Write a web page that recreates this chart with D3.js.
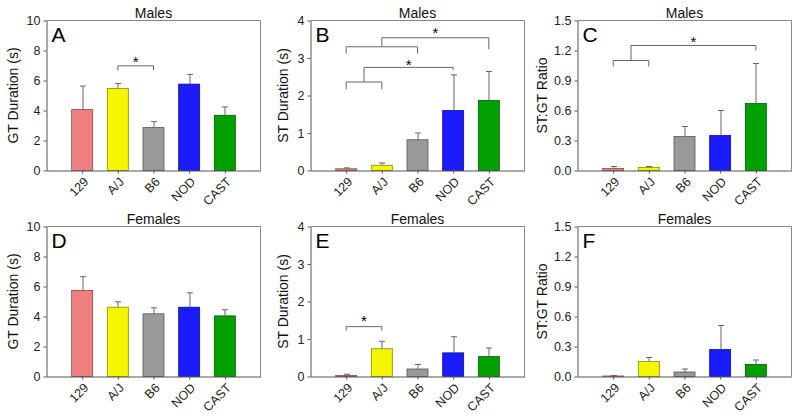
<!DOCTYPE html>
<html><head><meta charset="utf-8">
<script src="https://cdn.jsdelivr.net/npm/d3@7"></script>
<style>body{margin:0;background:#fff}svg{display:block}text{font-family:Arial,"Liberation Sans",sans-serif}</style>
</head><body><svg id="c" width="800" height="418"></svg>
<script>
const strains = ["129","A/J","B6","NOD","CAST"];
const colors = ["#F08080","#F5F500","#999999","#1A1AFF","#00A000"];

const gtMaleMean = [4.06, 5.47, 2.86, 5.76, 3.68];
const gtMaleErr  = [5.63, 5.80, 3.26, 6.41, 4.24];
const stMaleMean = [0.045, 0.14, 0.82, 1.60, 1.87];
const stMaleErr  = [0.07, 0.20, 1.00, 2.55, 2.64];
const rMaleMean  = [0.02, 0.03, 0.34, 0.35, 0.67];
const rMaleErr   = [0.04, 0.04, 0.44, 0.60, 1.07];
const gtFemMean  = [5.74, 4.62, 4.18, 4.62, 4.04];
const gtFemErr   = [6.66, 4.98, 4.58, 5.58, 4.45];
const stFemMean  = [0.03, 0.74, 0.20, 0.63, 0.53];
const stFemErr   = [0.06, 0.94, 0.32, 1.06, 0.76];
const rFemMean   = [0.005, 0.15, 0.045, 0.27, 0.12];
const rFemErr    = [0.01, 0.19, 0.075, 0.51, 0.165];

const gtTicks = [0,2,4,6,8,10];
const stTicks = [0,1,2,3,4];
const rTicks  = [0,0.3,0.6,0.9,1.2,1.5];

const bracketsA = [{from:1,to:2,y:6.98,leg:6.68,star:7.45}];
const bracketsE = [{from:0,to:1,y:1.33,leg:1.22,star:1.55}];
const nestedB = [
  {a:0,b:1,y:2.36,leg:2.16,top:2.75,target:3,drop:2.68,star:2.9},
  {a:0,b:2,y:3.30,leg:3.12,top:3.54,target:4,drop:3.23,star:3.76}
];
const nestedC = [{a:0,b:1,y:1.10,leg:1.04,top:1.25,target:4,drop:1.20,star:1.32}];

const panels = [
  {letter:"A",title:"Males",ylab:"GT Duration (s)",mean:gtMaleMean,err:gtMaleErr,ticks:gtTicks,max:10,fmt:d3.format("d"),x0:46.5,y0:20.5,lx:-29,br:bracketsA,nest:[]},
  {letter:"B",title:"Males",ylab:"ST Duration (s)",mean:stMaleMean,err:stMaleErr,ticks:stTicks,max:4,fmt:d3.format("d"),x0:310.5,y0:20.5,lx:-23,br:[],nest:nestedB},
  {letter:"C",title:"Males",ylab:"ST:GT Ratio",mean:rMaleMean,err:rMaleErr,ticks:rTicks,max:1.5,fmt:d3.format(".1f"),x0:577.5,y0:20.5,lx:-31,br:[],nest:nestedC},
  {letter:"D",title:"Females",ylab:"GT Duration (s)",mean:gtFemMean,err:gtFemErr,ticks:gtTicks,max:10,fmt:d3.format("d"),x0:46.5,y0:226.5,lx:-29,br:[],nest:[]},
  {letter:"E",title:"Females",ylab:"ST Duration (s)",mean:stFemMean,err:stFemErr,ticks:stTicks,max:4,fmt:d3.format("d"),x0:310.5,y0:226.5,lx:-23,br:bracketsE,nest:[]},
  {letter:"F",title:"Females",ylab:"ST:GT Ratio",mean:rFemMean,err:rFemErr,ticks:rTicks,max:1.5,fmt:d3.format(".1f"),x0:577.5,y0:226.5,lx:-31,br:[],nest:[]}
];

const W = 214, H = 150, BW = 21;
const svg = d3.select("#c");
const axisCol = "#555", frameCol = "#888", lineCol = "#666";

panels.forEach(p => {
  const g = svg.append("g").attr("transform", `translate(${p.x0},${p.y0})`);
  const x = d3.scalePoint().domain(strains).range([0, W]).padding(1);
  const y = d3.scaleLinear().domain([0, p.max]).range([H, 0]);

  g.append("path").attr("d", `M0,0H${W}V${H}`).attr("fill","none").attr("stroke",frameCol).attr("stroke-width",1);

  g.selectAll("rect.bar").data(strains).join("rect")
    .attr("x", d => x(d) - BW/2).attr("width", BW)
    .attr("y", (d,i) => y(p.mean[i])).attr("height", (d,i) => H - y(p.mean[i]))
    .attr("fill", (d,i) => colors[i])
    .attr("stroke", (d,i) => d3.color(colors[i]).darker(1.6)).attr("stroke-width", 0.8);

  strains.forEach((d,i) => {
    const cx = Math.round(x(d)) + 0.5;
    g.append("line").attr("x1",cx).attr("x2",cx).attr("y1",y(p.mean[i])).attr("y2",y(p.err[i])).attr("stroke",lineCol).attr("stroke-width",1);
    g.append("line").attr("x1",cx-3).attr("x2",cx+3).attr("y1",y(p.err[i])).attr("y2",y(p.err[i])).attr("stroke",lineCol).attr("stroke-width",1);
  });

  const ya = g.append("g").call(d3.axisLeft(y).tickValues(p.ticks).tickFormat(p.fmt).tickSizeInner(3).tickSizeOuter(0).tickPadding(3));
  ya.select(".domain").attr("stroke", axisCol);
  ya.selectAll(".tick line").attr("stroke", axisCol);
  ya.selectAll("text").attr("font-size", 12.5).attr("fill","#222");

  const xa = g.append("g").attr("transform", `translate(0,${H})`).call(d3.axisBottom(x).tickFormat("").tickSizeInner(3).tickSizeOuter(0));
  xa.select(".domain").attr("stroke", axisCol);
  xa.selectAll(".tick line").attr("stroke", axisCol);

  g.selectAll("text.xl").data(strains).join("text")
    .attr("class","xl")
    .attr("transform", d => `translate(${x(d)+4},${H+9}) rotate(-45)`)
    .attr("text-anchor","end").attr("dy","0.35em")
    .attr("font-size", 12.5).attr("fill","#222").text(d => d);

  g.append("text").attr("x", W/2).attr("y", -2.5).attr("text-anchor","middle").attr("font-size",14).attr("fill","#111").text(p.title);
  g.append("text").attr("x", 5).attr("y", 21).attr("font-size",21).attr("fill","#000").text(p.letter);
  g.append("text").attr("transform", `translate(${p.lx},${H/2}) rotate(-90)`).attr("text-anchor","middle").attr("font-size",14).attr("fill","#111").text(p.ylab);

  p.br.forEach(b => {
    const x1 = x(strains[b.from]), x2 = x(strains[b.to]);
    g.append("path").attr("d", `M${x1},${y(b.leg)}V${y(b.y)}H${x2}V${y(b.leg)}`).attr("fill","none").attr("stroke",lineCol);
    g.append("text").attr("x",(x1+x2)/2).attr("y",y(b.star)+8).attr("text-anchor","middle").attr("font-size",15).text("*");
  });
  p.nest.forEach(b => {
    const xa1 = x(strains[b.a]), xb = x(strains[b.b]), xt = x(strains[b.target]);
    const xm = (xa1 + xb) / 2;
    g.append("path").attr("d", `M${xa1},${y(b.leg)}V${y(b.y)}H${xb}V${y(b.leg)}`).attr("fill","none").attr("stroke",lineCol);
    g.append("path").attr("d", `M${xm},${y(b.y)}V${y(b.top)}H${xt}V${y(b.drop)}`).attr("fill","none").attr("stroke",lineCol);
    g.append("text").attr("x",(xm+xt)/2).attr("y",y(b.star)+8).attr("text-anchor","middle").attr("font-size",15).text("*");
  });
});
</script></body></html>
